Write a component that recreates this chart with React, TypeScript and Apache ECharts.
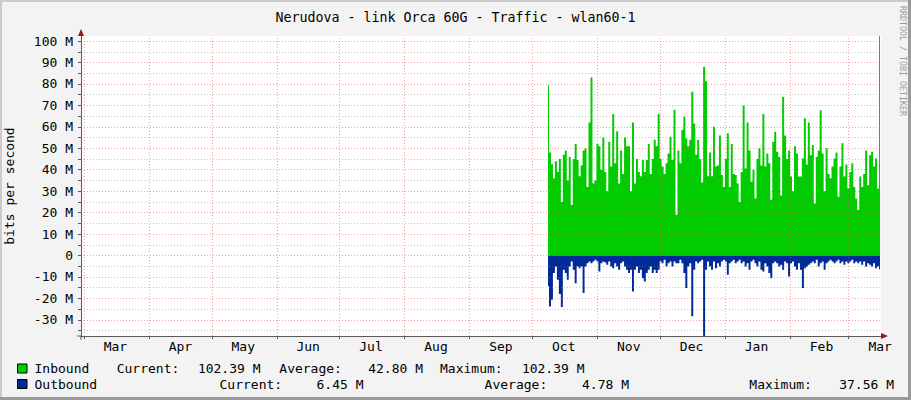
import React, { useEffect, useRef } from 'react';
import * as echarts from 'echarts';

const FONT = '"DejaVu Sans Mono", monospace';
const TITLE = 'Nerudova - link Orca 60G - Traffic - wlan60-1';
const Y_NAME = 'bits per second';
const WATERMARK = 'RRDTOOL / TOBI OETIKER';

const MONTHS = ['Mar', 'Apr', 'May', 'Jun', 'Jul', 'Aug', 'Sep', 'Oct', 'Nov', 'Dec', 'Jan', 'Feb', 'Mar'];
const MONTH_STARTS = [
  '2021-03-01', '2021-04-01', '2021-05-01', '2021-06-01', '2021-07-01', '2021-08-01', '2021-09-01',
  '2021-10-01', '2021-11-01', '2021-12-01', '2022-01-01', '2022-02-01', '2022-03-01',
];
const X_START = '2021-02-27T13:38:00Z';
const X_END = '2022-03-16T09:48:00Z';
const DATA_START = '2021-10-08T11:15:00Z';
const DATA_END = '2022-03-15T22:00:00Z';

const Y_MIN = -37.56;
const Y_MAX = 102.39;
const Y_MAJOR = [-30, -20, -10, 0, 10, 20, 30, 40, 50, 60, 70, 80, 90, 100];
const Y_MINOR = [-35, -25, -15, -5, 5, 15, 25, 35, 45, 55, 65, 75, 85, 95];

// Inbound, M bits per second (one value per sample from Oct 8 to Mar 15)
const inbound = [
  79.5, 48, 42.6, 36, 44, 39, 45, 25, 47, 49, 35, 46, 23.5, 45, 52, 44.5, 37, 42, 49, 50, 32, 62, 83, 33.6, 35, 52, 51, 40, 55, 39, 30, 53, 41.5, 66, 43, 58, 33.6, 49, 38, 55, 51,
  51, 30, 62, 33.6, 45, 39, 37, 44.5, 39, 44.5, 52, 38, 45, 54, 51, 66, 45, 41.5, 38, 43, 47.6, 55.4, 44.5, 68, 19, 49, 43, 58.5, 64.7, 54.6, 51, 54, 76.4, 61.6, 47, 54, 45, 34, 88, 81.3, 37, 48, 37, 60,
  41.5, 42, 56, 37.5, 32, 45, 57, 32, 52, 38, 37.5, 33.6, 25, 39, 70, 40.6, 62, 49, 34.4, 40, 26.6, 45, 50, 42, 66, 41.5, 47.6, 43, 26, 53, 57.7, 48.4, 46, 28, 74, 56, 45, 49, 36.8, 30, 51, 47.6, 36.8,
  36.8, 45.3, 64, 42.4, 62, 46.8, 51.5, 24.3, 46, 49, 67.8, 47.6, 30, 50, 38, 36, 41.5, 45.3, 48, 27.4, 41.5, 52.3, 36.8, 42.4, 31.3, 39, 43, 32, 26.6, 21.2, 36.8, 32, 38, 49, 32.8, 46.8, 48.4, 41.5, 45.3, 31.3, 102.39,
];

// Outbound, M bits per second (drawn below zero)
const outbound = [
  14.4, 23.8, 20.6, 8.2, 5.1, 11.3, 18, 24, 6.7, 8.2, 11.3, 5.1, 2.8, 6.7, 12.9, 5.1, 5.9, 5.1, 17.5, 5.1, 3.6, 2.8, 3.6, 2.8, 2.0, 2.8, 7.5, 3.6, 2.8, 3.3, 4.3, 2.8, 5.1, 5.9, 3.6, 5.1, 6.7, 3.6, 2.8, 5.1, 6.7,
  8.2, 6.7, 16.8, 6.7, 5.1, 8.2, 6.7, 10.6, 12.1, 8.2, 6.7, 5.1, 8.2, 6.7, 8.2, 6.7, 2.8, 3.6, 2.0, 5.1, 3.6, 2.8, 5.1, 2.8, 3.6, 3.6, 2.0, 3.6, 8.2, 15.2, 5.1, 3.6, 28.4, 6.7, 2.8, 3.6, 2.8, 2.0, 37.56, 6.7, 2.8, 5.1, 6.7, 2.8,
  5.9, 3.6, 5.1, 2.8, 2.0, 2.8, 9.0, 3.6, 2.8, 2.0, 3.6, 2.8, 2.0, 3.6, 2.8, 5.1, 3.6, 6.7, 2.8, 2.0, 3.6, 5.1, 2.8, 6.7, 7.5, 3.6, 5.1, 8.2, 10.6, 3.6, 2.8, 3.6, 5.1, 4.3, 6.7, 2.8, 3.6, 9.8, 3.6, 2.8, 5.1, 6.7, 3.6,
  6.7, 15.2, 5.9, 5.1, 4.3, 3.6, 2.8, 3.6, 2.0, 5.1, 3.6, 2.8, 6.7, 3.6, 2.8, 2.0, 2.8, 3.6, 2.8, 2.0, 3.6, 2.8, 4.3, 2.8, 3.6, 2.8, 2.0, 3.6, 2.8, 3.6, 2.8, 4.3, 2.8, 5.1, 3.6, 4.3, 5.1, 3.6, 5.9, 5.1, 6.45,
];

const LEGEND_NAMES = ['Inbound', 'Outbound'];
const STAT_LABELS = ['Current:', 'Average:', 'Maximum:'];
const inboundStats = ['102.39 M', '42.80 M', '102.39 M'];
const outboundStats = ['6.45 M', '4.78 M', '37.56 M'];

const GREEN = '#00CC00';
const BLUE = '#002A97';
const DAY = 24 * 3600 * 1000;

export default function App() {
  const ref = useRef<HTMLDivElement>(null);

  useEffect(() => {
    if (!ref.current) return;
    const chart = echarts.init(ref.current, undefined, { renderer: 'svg' });

    const xMin = Date.parse(X_START);
    const xMax = Date.parse(X_END);
    const d0 = Date.parse(DATA_START);
    const d1 = Date.parse(DATA_END);
    const n = inbound.length;
    const stepMs = (d1 - d0) / (n - 1);
    const times = inbound.map((_, i) => d0 + i * stepMs);
    const monthMs = MONTH_STARTS.map((s) => Date.parse(s + 'T00:00:00Z'));
    const labelMs = monthMs.map((t) => Math.min(t + 15 * DAY, xMax));

    const majorStyle = { color: 'rgba(235, 70, 70, 0.5)', width: 1, type: [1, 2] as any };
    const minorStyle = { color: 'rgba(130, 130, 130, 0.45)', width: 1, type: [1, 2] as any };
    const axisColor = '#5a5a5a';

    const gridLines: any[] = [
      ...monthMs.map((t) => ({ xAxis: t, lineStyle: majorStyle })),
      ...Y_MAJOR.map((v) => ({ yAxis: v, lineStyle: majorStyle })),
      ...Y_MINOR.map((v) => ({ yAxis: v, lineStyle: minorStyle })),
    ];

    const textEl = (text: string, x: number, y: number, align = 'left') => ({
      type: 'text',
      x,
      y,
      silent: true,
      style: { text, fill: '#000', font: `13px ${FONT}`, align, verticalAlign: 'middle' },
    });

    const row1 = 368.5;
    const row2 = 384;
    const statsRows = [
      { y: row1, stats: inboundStats, labelX: [116.7, 279.3, 440], valueEnd: [260.5, 423, 584.5] },
      { y: row2, stats: outboundStats, labelX: [219.5, 484.6, 749.3], valueEnd: [363.5, 629, 894] },
    ];

    const graphic: any[] = [
      { type: 'rect', shape: { x: 0, y: 0, width: 911, height: 2 }, style: { fill: '#CBCBCB' }, silent: true },
      { type: 'rect', shape: { x: 0, y: 0, width: 2, height: 400 }, style: { fill: '#CBCBCB' }, silent: true },
      { type: 'rect', shape: { x: 908, y: 0, width: 3, height: 400 }, style: { fill: '#9A9A9A' }, silent: true },
      { type: 'rect', shape: { x: 0, y: 397, width: 911, height: 3 }, style: { fill: '#9A9A9A' }, silent: true },
      { type: 'line', shape: { x1: 81, y1: 336, x2: 81, y2: 340 }, style: { stroke: axisColor, lineWidth: 1 }, z: 100, silent: true },
      { type: 'line', shape: { x1: 77, y1: 336, x2: 81, y2: 336 }, style: { stroke: axisColor, lineWidth: 1 }, z: 100, silent: true },
      { type: 'polygon', shape: { points: [[78, 36], [84, 36], [81, 29]] }, style: { fill: '#8E1B1B' }, z: 100, silent: true },
      { type: 'polygon', shape: { points: [[881, 333], [881, 339], [888, 336]] }, style: { fill: '#8E1B1B' }, z: 100, silent: true },
      {
        type: 'text',
        x: 903,
        y: 6,
        rotation: -Math.PI / 2,
        silent: true,
        style: { text: WATERMARK, fill: '#9C9C9C', font: `8.3px ${FONT}`, align: 'left', verticalAlign: 'middle' },
      },
      { type: 'rect', shape: { x: 17.5, y: 364, width: 9.5, height: 9 }, style: { fill: GREEN, stroke: '#000', lineWidth: 1 }, silent: true },
      { type: 'rect', shape: { x: 17.5, y: 379.5, width: 9.5, height: 9 }, style: { fill: BLUE, stroke: '#000', lineWidth: 1 }, silent: true },
      textEl(LEGEND_NAMES[0], 34.5, row1),
      textEl(LEGEND_NAMES[1], 34.5, row2),
    ];
    statsRows.forEach((r) => {
      r.stats.forEach((s, i) => {
        graphic.push(textEl(STAT_LABELS[i], r.labelX[i], r.y));
        graphic.push(textEl(s, r.valueEnd[i], r.y, 'right'));
      });
    });

    const nearestMonth = (v: number) => {
      let best = 0;
      labelMs.forEach((t, i) => {
        if (Math.abs(t - v) < Math.abs(labelMs[best] - v)) best = i;
      });
      return MONTHS[best];
    };

    chart.setOption({
      animation: false,
      backgroundColor: '#F3F3F3',
      textStyle: { fontFamily: FONT },
      title: {
        text: TITLE,
        left: 'center',
        top: 6,
        textStyle: { fontFamily: FONT, fontSize: 13.3, fontWeight: 'normal', color: '#000' },
      },
      grid: {
        left: 81,
        top: 36,
        width: 800,
        height: 300,
        show: true,
        backgroundColor: '#FFFFFF',
        borderWidth: 0,
        containLabel: false,
        outerBoundsMode: 'none',
      },
      xAxis: {
        type: 'value',
        min: xMin,
        max: xMax,
        axisLine: { show: true, onZero: false, lineStyle: { color: axisColor, width: 1 } },
        axisTick: { show: true, customValues: monthMs, length: 3, lineStyle: { color: axisColor } },
        axisLabel: {
          customValues: labelMs,
          formatter: (v: number) => nearestMonth(v),
          margin: 4,
          color: '#000',
          fontSize: 13,
          fontFamily: FONT,
          hideOverlap: false,
        },
        splitLine: { show: false },
      },
      yAxis: {
        type: 'value',
        min: Y_MIN,
        max: Y_MAX,
        name: Y_NAME,
        nameLocation: 'middle',
        nameGap: 65,
        nameTextStyle: { fontFamily: FONT, fontSize: 13, color: '#000' },
        axisLine: { show: true, lineStyle: { color: axisColor, width: 1 } },
        axisTick: { show: true, customValues: [...Y_MAJOR, ...Y_MINOR], length: 3, lineStyle: { color: axisColor } },
        axisLabel: {
          customValues: Y_MAJOR,
          formatter: (v: number) => (v === 0 ? '0' : `${v} M`),
          margin: 8,
          color: '#000',
          fontSize: 13,
          fontFamily: FONT,
        },
        splitLine: { show: false },
      },
      series: [
        {
          name: LEGEND_NAMES[0],
          type: 'line',
          step: 'middle',
          symbol: 'none',
          showSymbol: false,
          silent: true,
          data: inbound.map((v, i) => [times[i], v]),
          lineStyle: { width: 0, color: GREEN },
          itemStyle: { color: GREEN },
          areaStyle: { color: GREEN, opacity: 1 },
          z: 2,
        },
        {
          name: LEGEND_NAMES[1],
          type: 'line',
          step: 'middle',
          symbol: 'none',
          showSymbol: false,
          silent: true,
          data: outbound.map((v, i) => [times[i], -v]),
          lineStyle: { width: 0, color: BLUE },
          itemStyle: { color: BLUE },
          areaStyle: { color: BLUE, opacity: 1 },
          z: 2,
        },
        {
          name: 'grid',
          type: 'line',
          data: [],
          silent: true,
          z: 5,
          markLine: {
            silent: true,
            animation: false,
            symbol: ['none', 'none'],
            label: { show: false },
            emphasis: { disabled: true },
            data: gridLines,
          },
        },
      ],
      graphic,
    });

    return () => chart.dispose();
  }, []);

  return (
    <div
      ref={ref}
      style={{ position: 'absolute', left: 0, top: 0, width: 911, height: 400 }}
    />
  );
}
